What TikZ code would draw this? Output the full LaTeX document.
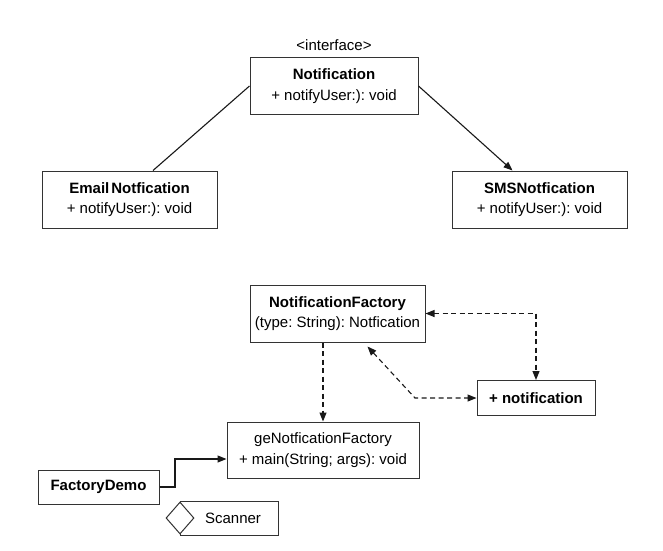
\documentclass[tikz,border=0pt]{standalone}
\usepackage{fontspec}
\setmainfont{Liberation Sans}
\usetikzlibrary{arrows.meta,shapes.geometric}
\frenchspacing
\begin{document}
\begin{tikzpicture}[x=1pt,y=-1pt,
  umlbox/.style={draw=black!80,line width=1pt,fill=white,align=center,inner sep=2pt,
    font=\fontsize{15}{20.5}\selectfont},
  conn/.style={draw=black!90,line width=1.1pt},
  dconn/.style={conn,dash pattern=on 5pt off 3.5pt},
  tip/.style={-{Triangle[length=9pt,width=7pt]}},
  dtip/.style={{Triangle[length=9pt,width=7pt]}-{Triangle[length=9pt,width=7pt]}},
  lbl/.style={font=\fontsize{15}{18}\selectfont}
]
\useasboundingbox (0,0) rectangle (663,550);
\fill[white] (0,0) rectangle (663,550);

\node[lbl] (iface) at (334,45) {<interface>};
\node[umlbox,minimum width=168,minimum height=57] (N) at (334,86)
  {\textbf{Notification}\\+ notifyUser:): void};
\node[umlbox,minimum width=175,minimum height=57] (E) at (129.5,199.5)
  {\textbf{Email\hspace{2pt}Notfication}\\+ notifyUser:): void};
\node[umlbox,minimum width=175,minimum height=57] (S) at (539.5,199.5)
  {\textbf{SMSNotfication}\\+ notifyUser:): void};

\node[umlbox,minimum width=175,minimum height=57] (NF) at (337.5,313.5)
  {\textbf{NotificationFactory}\\(type: String): Notfication};
\node[umlbox,minimum width=118,minimum height=35] (nt) at (536,398)
  {\textbf{+ notification}};
\node[umlbox,minimum width=192,minimum height=56] (G) at (323,450)
  {geNotficationFactory\\+ main(String; args): void};
\node[umlbox,minimum width=121,minimum height=34] (FD) at (98.5,487)
  {\textbf{FactoryDemo}};
\node[umlbox,minimum width=98,minimum height=34] (SC) at (229,518)
  {\hspace*{8pt}Scanner};
\node[draw=black!80,line width=1pt,fill=white,shape=diamond,
  minimum width=28,minimum height=32,inner sep=0pt] (D) at (180,518) {};

\draw[conn] (N.west) -- ([xshift=23.5pt]E.north);
\draw[conn,tip] (N.east) -- ([xshift=-27pt]S.north);

\draw[dconn,dtip] (NF.east) -| (nt.north);
\coordinate (k) at (415,398);
\draw[dconn,dtip] ([xshift=30pt,yshift=-4pt]NF.south) -- (k) -- (nt.west);
\draw[dconn,tip] (G.north |- NF.south) -- (G.north);

\coordinate (fa) at (175,487);
\coordinate (fb) at (175,459);
\draw[conn,tip] (FD.east) -- (fa) -- (fb) -- (fb -| G.west);
\end{tikzpicture}
\end{document}
